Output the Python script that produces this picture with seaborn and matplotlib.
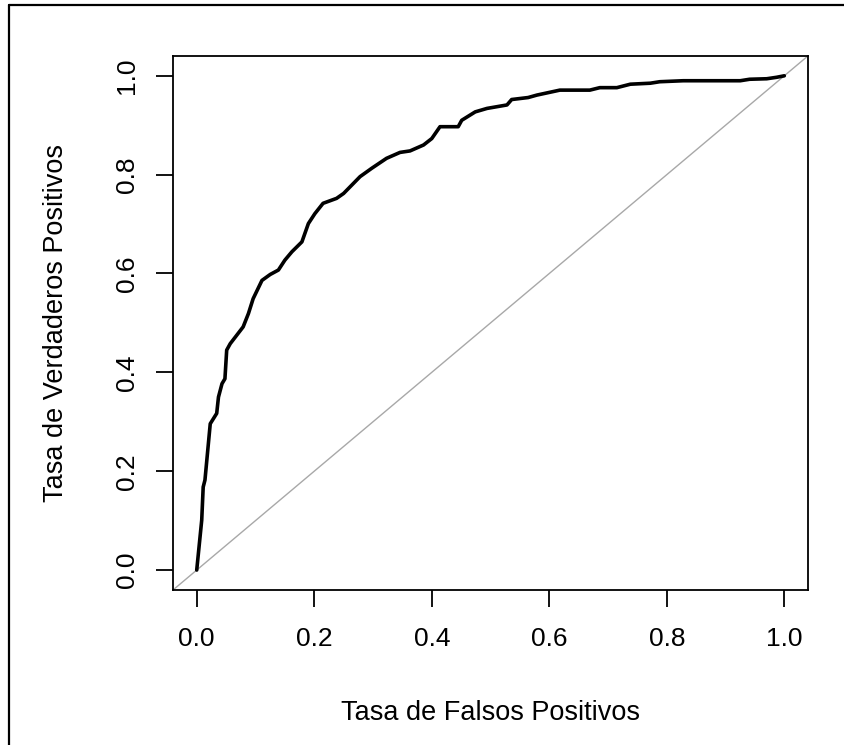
import matplotlib
matplotlib.use("Agg")
import matplotlib.pyplot as plt
from matplotlib.lines import Line2D
import seaborn as sns
import pandas as pd

# ROC curve: false positive rate vs. true positive rate
fpr = [0.000, 0.0085, 0.011, 0.014, 0.023, 0.034, 0.037, 0.043, 0.048, 0.051,
       0.057, 0.079, 0.088, 0.096, 0.111, 0.125, 0.139, 0.150, 0.162, 0.179,
       0.190, 0.201, 0.215, 0.238, 0.250, 0.264, 0.278, 0.298, 0.323, 0.346,
       0.363, 0.386, 0.400, 0.414, 0.431, 0.445, 0.451, 0.474, 0.494, 0.528,
       0.536, 0.564, 0.579, 0.618, 0.669, 0.686, 0.715, 0.738, 0.772, 0.788,
       0.828, 0.925, 0.941, 0.970, 0.987, 1.000]
tpr = [0.000, 0.101, 0.168, 0.182, 0.296, 0.317, 0.350, 0.377, 0.387, 0.445,
       0.458, 0.492, 0.519, 0.549, 0.586, 0.598, 0.607, 0.627, 0.644, 0.664,
       0.701, 0.721, 0.742, 0.752, 0.762, 0.779, 0.796, 0.813, 0.833, 0.845,
       0.848, 0.860, 0.873, 0.897, 0.897, 0.897, 0.910, 0.927, 0.934, 0.941,
       0.952, 0.956, 0.961, 0.971, 0.971, 0.976, 0.976, 0.983, 0.985, 0.988,
       0.990, 0.990, 0.993, 0.994, 0.997, 1.000]
ticks = [0.0, 0.2, 0.4, 0.6, 0.8, 1.0]
tick_labels = ["0.0", "0.2", "0.4", "0.6", "0.8", "1.0"]
x_label = "Tasa de Falsos Positivos"
y_label = "Tasa de Verdaderos Positivos"

sns.set_theme(style="ticks")
plt.rcParams["font.family"] = ["Liberation Sans", "DejaVu Sans"]

fig = plt.figure(figsize=(8.45, 7.45), dpi=100)
ax = fig.add_axes([0.205, 0.2083, 0.751, 0.7165])

df = pd.DataFrame({"fpr": fpr, "tpr": tpr})
sns.lineplot(data=df, x="fpr", y="tpr", sort=False, estimator=None,
             color="black", linewidth=2.6, ax=ax)
ax.axline((0, 0), (1, 1), color="#A8A8A8", linewidth=1.0, zorder=1)

ax.set_xlim(-0.04, 1.04)
ax.set_ylim(-0.04, 1.04)
ax.set_xticks(ticks)
ax.set_xticklabels(tick_labels)
ax.set_yticks(ticks)
ax.set_yticklabels(tick_labels, rotation=90, va="center")
ax.tick_params(axis="both", length=12, width=1.3, color="black",
               labelsize=19, labelcolor="black")
ax.tick_params(axis="x", pad=15)
ax.tick_params(axis="y", pad=12.5)
for s in ax.spines.values():
    s.set_visible(True)
    s.set_linewidth(1.3)
    s.set_color("black")

ax.set_xlabel(x_label, fontsize=19.5, color="black", labelpad=35)
ax.set_ylabel(y_label, fontsize=19.5, color="black", labelpad=33)

# frame lines along the left and top edges of the figure
fig.add_artist(Line2D([9 / 845, 9 / 845], [0, 1 - 5 / 745],
                      transform=fig.transFigure, color="black", linewidth=1.6))
fig.add_artist(Line2D([9 / 845, 1], [1 - 5 / 745, 1 - 5 / 745],
                      transform=fig.transFigure, color="black", linewidth=1.6))

fig.savefig("out.png", dpi=100, facecolor="white")
